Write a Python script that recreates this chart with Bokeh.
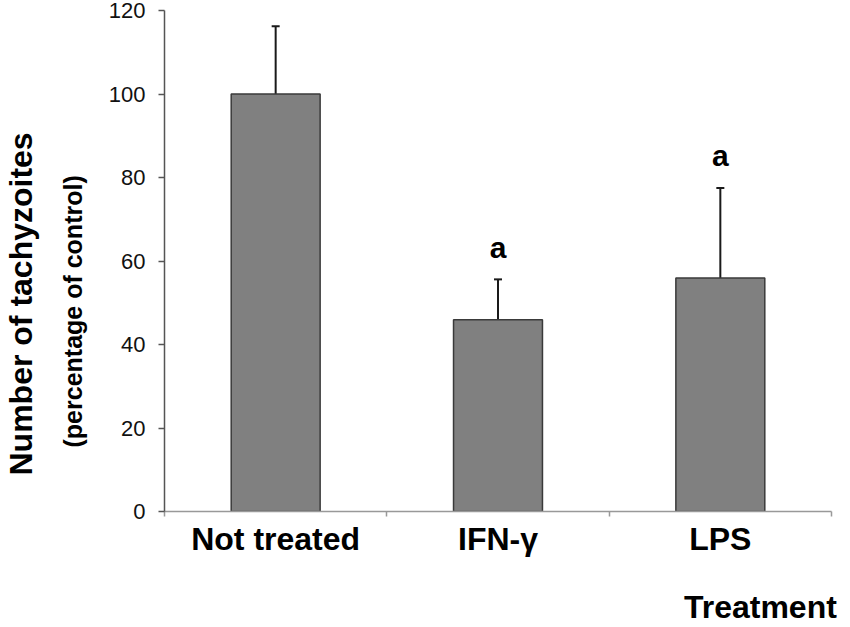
from bokeh.plotting import figure
from bokeh.models import (ColumnDataSource, Range1d, FixedTicker, Whisker, TeeHead, Title)
from bokeh.core.properties import value
from bokeh.embed import file_html
from bokeh.resources import INLINE

categories = ["Not treated", "IFN-\u03b3", "LPS"]
means = [100.0, 45.9, 55.9]
errors = [16.2, 9.7, 21.6]
significance = ["", "a", "a"]
y_ticks = [0, 20, 40, 60, 80, 100, 120]
x_title = "Treatment"

xs = [i + 0.5 for i in range(len(categories))]
uppers = [m + e for m, e in zip(means, errors)]
src = ColumnDataSource(dict(x=xs, top=means, upper=uppers, cat=categories, sig=significance))

FONT = "Liberation Sans"

p = figure(width=850, height=627, output_backend="svg", toolbar_location=None,
           x_range=Range1d(0, 3), y_range=Range1d(0, 120),
           min_border_left=163, min_border_right=19, min_border_top=10, min_border_bottom=116)
p.outline_line_color = None
p.xgrid.visible = False
p.ygrid.visible = False
p.background_fill_color = "white"

p.vbar(x="x", top="top", bottom=0, width=0.40, source=src,
       fill_color="#808080", line_color="#3a3a3a", line_width=1.5)

wh = Whisker(source=src, base="x", upper="upper", lower="top",
             line_color="#1a1a1a", line_width=2,
             upper_head=TeeHead(size=8, line_color="#1a1a1a", line_width=2),
             lower_head=None)
p.add_layout(wh)

sig_src = ColumnDataSource(dict(x=[x for x, s in zip(xs, significance) if s],
                                y=[u for u, s in zip(uppers, significance) if s],
                                t=[s for s in significance if s]))
p.text(x="x", y="y", text="t", source=sig_src, y_offset=-32,
       text_align="center", text_baseline="alphabetic",
       text_font=value(FONT), text_font_style="bold", text_font_size="30px",
       text_color="black")

# y axis
p.yaxis.ticker = FixedTicker(ticks=y_ticks)
p.yaxis.major_tick_out = 6
p.yaxis.major_tick_in = 0
p.yaxis.minor_tick_line_color = None
p.yaxis.axis_line_color = "#555555"
p.yaxis.axis_line_width = 1.5
p.yaxis.major_tick_line_color = "#555555"
p.yaxis.major_tick_line_width = 1.5
p.yaxis.major_label_text_font = FONT
p.yaxis.major_label_text_font_size = "22px"
p.yaxis.major_label_text_color = "#111111"
p.yaxis.major_label_standoff = 13

# x axis
xa = p.xaxis[0]
xa.ticker = FixedTicker(ticks=xs, minor_ticks=list(range(len(categories) + 1)))
xa.major_label_overrides = {x: c for x, c in zip(xs, categories)}
xa.major_tick_line_color = None
xa.major_tick_in = 0
xa.major_tick_out = 0
xa.minor_tick_in = 0
xa.minor_tick_out = 5
xa.minor_tick_line_color = "#999999"
xa.minor_tick_line_width = 1.5
xa.axis_line_color = "#999999"
xa.axis_line_width = 1.5
xa.major_label_text_font = FONT
xa.major_label_text_font_style = "bold"
xa.major_label_text_font_size = "32px"
xa.major_label_text_color = "black"
xa.major_label_standoff = 4

# the label is centred on the frame's right end; trailing no-break spaces pull it left
xa.axis_label = x_title + "\u00a0" * 16
xa.axis_label_align = "end"
xa.axis_label_standoff = 29
xa.axis_label_text_font = FONT
xa.axis_label_text_font_style = "bold"
xa.axis_label_text_font_size = "32px"
xa.axis_label_text_color = "black"

# y axis titles
t_pct = Title(text="(percentage of control)", align="left", offset=64, standoff=37,
              text_font=FONT, text_font_style="bold", text_font_size="25px", text_color="black")
p.add_layout(t_pct, "left")
t_num = Title(text="Number of tachyzoites", align="left", offset=36, standoff=0,
              text_font=FONT, text_font_style="bold", text_font_size="32px", text_color="black")
p.add_layout(t_num, "left")

open("out.html", "w").write(file_html(p, INLINE))
